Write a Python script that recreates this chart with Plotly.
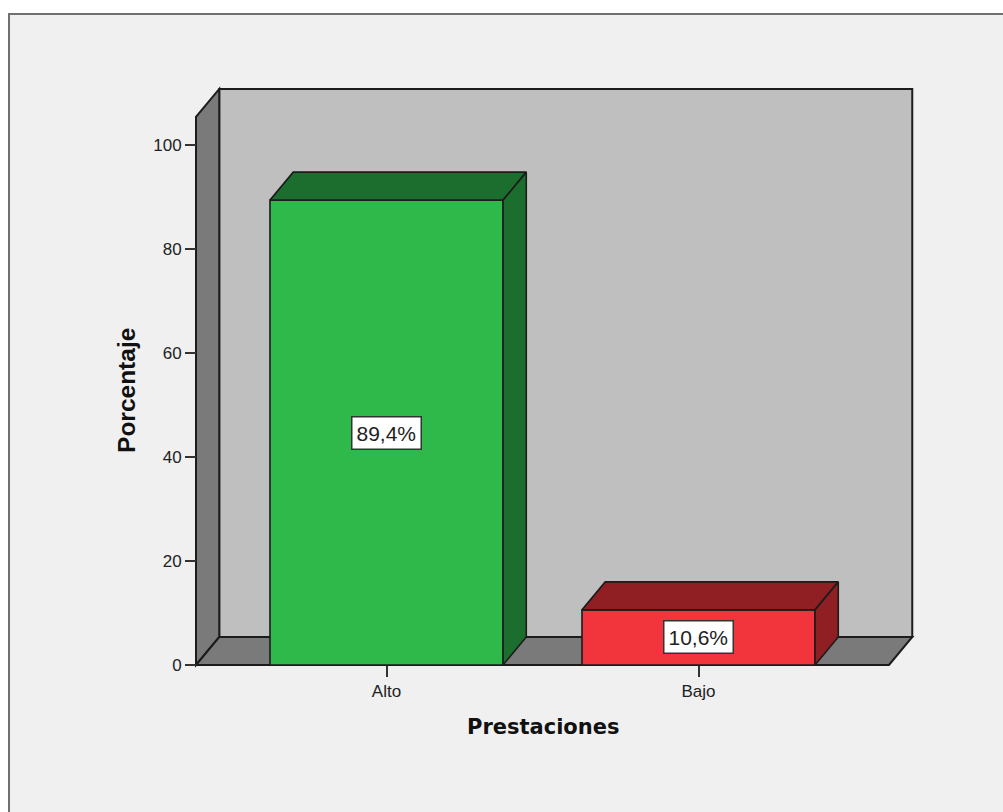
import plotly.graph_objects as go

# Chart data
categories = ["Alto", "Bajo"]
percentages = [89.4, 10.6]
value_labels = ["89,4%", "10,6%"]
y_ticks = [0, 20, 40, 60, 80, 100]

# Colours per bar: front, shaded sides
front_colors = ["#2fb94b", "#f2343c"]
shade_colors = ["#1b6e2e", "#8f1f23"]
edge = "#1c1c1c"
wall_back = "#bfbfbf"
wall_side = "#7a7a7a"
panel = "#f0f0f0"

# Pseudo-3D geometry in axis units
bar_width = 0.747
depth_x = 0.0745
depth_y = 5.385
box_left, box_right = -0.6106, 1.6106
box_top = 105.4

# Plot area in pixels; axes sit 10 px inside it so edges are not clipped
W, H = 1003, 812
left, right, top, bottom = 186, 922, 79, 675
px_per_x, px_per_y = 312.0, 5.2
x_range = [box_left - 10 / px_per_x, box_left + (right - 196) / px_per_x]
y_range = [-10 / px_per_y, (675 - 79 - 10) / px_per_y]

fig = go.Figure()


def path(points):
    return "M " + " L ".join(f"{x},{y}" for x, y in points) + " Z"


# Box walls behind the bars
wall_line = dict(color=edge, width=2)
shapes = [
    dict(type="rect", xref="paper", yref="paper",
         x0=(9 - left) / (right - left), x1=(1020 - left) / (right - left),
         y0=(bottom - 830) / (bottom - top), y1=(bottom - 14) / (bottom - top),
         fillcolor=panel, line=dict(color="#707070", width=2), layer="below"),
    dict(type="rect", x0=box_left + depth_x, x1=box_right + depth_x,
         y0=depth_y, y1=box_top + depth_y,
         fillcolor=wall_back, line=wall_line, layer="below"),
    dict(type="path", fillcolor=wall_side, line=wall_line, layer="below",
         path=path([(box_left, 0), (box_left + depth_x, depth_y),
                    (box_left + depth_x, box_top + depth_y), (box_left, box_top)])),
    dict(type="path", fillcolor=wall_side, line=wall_line, layer="below",
         path=path([(box_left, 0), (box_right, 0),
                    (box_right + depth_x, depth_y), (box_left + depth_x, depth_y)])),
]

positions = list(range(len(categories)))

# Top and side faces of each bar
for pos, value, shade in zip(positions, percentages, shade_colors):
    x0, x1 = pos - bar_width / 2, pos + bar_width / 2
    faces = [
        [(x0, value), (x1, value), (x1 + depth_x, value + depth_y), (x0 + depth_x, value + depth_y)],
        [(x1, 0), (x1 + depth_x, depth_y), (x1 + depth_x, value + depth_y), (x1, value)],
    ]
    for face in faces:
        xs, ys = zip(*(face + face[:1]))
        fig.add_trace(go.Scatter(x=xs, y=ys, mode="lines", fill="toself",
                                 fillcolor=shade, line=dict(color=edge, width=1.6),
                                 hoverinfo="skip", showlegend=False))

# Front faces
fig.add_trace(go.Bar(x=positions, y=percentages, width=bar_width,
                     marker=dict(color=front_colors, line=dict(color=edge, width=1.6)),
                     showlegend=False))

# Value labels centred on each bar
for pos, value, label in zip(positions, percentages, value_labels):
    fig.add_annotation(x=pos, y=value / 2, text=label, showarrow=False,
                       font=dict(family="Liberation Sans", size=21, color="#222222"),
                       bgcolor="#ffffff", bordercolor="#333333", borderwidth=1.5, borderpad=4)

# Axis titles, centred on the front of the box
fig.add_annotation(xref="x", yref="paper", x=(box_left + box_right) / 2,
                   y=(bottom - 727) / (bottom - top), xanchor="center", yanchor="middle",
                   text="Prestaciones", showarrow=False,
                   font=dict(family="DejaVu Sans", size=21, color="#111111", weight="bold"))
fig.add_annotation(xref="paper", yref="y", x=(127 - left) / (right - left),
                   y=box_top / 2, xanchor="center", yanchor="middle",
                   text="Porcentaje", textangle=-90, showarrow=False,
                   font=dict(family="Liberation Sans", size=24.5, color="#111111", weight="bold"))

tick_font = dict(family="Liberation Sans", size=17, color="#222222")
fig.update_layout(
    width=W, height=H, autosize=False,
    margin=dict(l=left, r=W - right, t=top, b=H - bottom, pad=0),
    paper_bgcolor="#ffffff", plot_bgcolor="rgba(0,0,0,0)",
    shapes=shapes,
    xaxis=dict(range=x_range, tickvals=positions, ticktext=categories,
               anchor="free", position=10 / (bottom - top),
               showgrid=False, zeroline=False, showline=False,
               ticks="outside", ticklen=11, tickwidth=1.5, tickcolor="#333333",
               tickfont=tick_font),
    yaxis=dict(range=y_range, tickvals=y_ticks,
               anchor="free", position=10 / (right - left),
               showgrid=False, zeroline=False, showline=False,
               ticks="outside", ticklen=11, tickwidth=1.5, tickcolor="#333333",
               tickfont=tick_font),
)

fig.write_html("out.html")
